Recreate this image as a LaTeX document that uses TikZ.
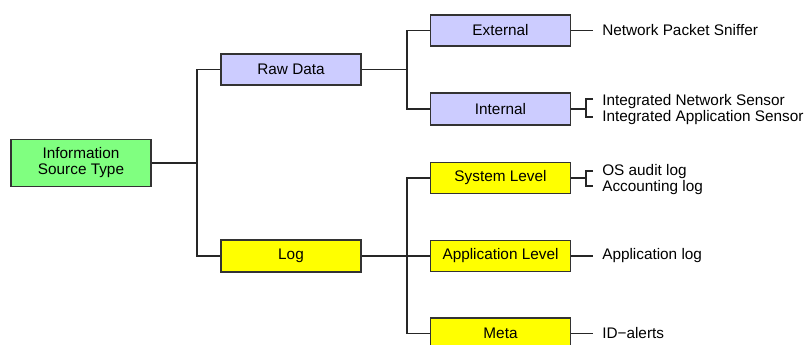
\documentclass[tikz,border=0pt]{standalone}
\usepackage{fontspec}
\setmainfont{Liberation Sans}
\definecolor{srcgreen}{RGB}{128,255,128}
\definecolor{rawblue}{RGB}{204,204,255}
\definecolor{logyellow}{RGB}{255,255,0}
\tikzset{
  box/.style={draw=black!80, line width=0.8pt, inner sep=0pt, minimum width=105pt, minimum height=23.25pt, align=center},
  leaf/.style={anchor=west, inner xsep=6.75pt, inner ysep=0pt, align=left},
  conn/.style={draw=black!85, line width=0.8pt}
}
\begin{document}
\begin{tikzpicture}[x=0.75pt, y=-0.75pt, font=\fontsize{11.5}{12}\selectfont]
\clip (0,0) rectangle (806,344);
\node[box, fill=srcgreen, minimum height=35.25pt] (src) at (81,163){Information\\Source Type};
\node[box, fill=rawblue] (raw) at (291,69.5){Raw Data};
\node[box, fill=logyellow, minimum height=24pt] (log) at (291,256){Log};
\node[box, fill=rawblue] (ext) at (500.5,30.5){External};
\node[box, fill=rawblue, minimum height=24pt] (int) at (500.5,109){Internal};
\node[box, fill=logyellow] (sys) at (500.5,178){System Level};
\node[box, fill=logyellow] (app) at (500.5,256){Application Level};
\node[box, fill=logyellow] (meta) at (500.5,333.5){Meta};
\node[leaf] (nps) at (593,30.5){Network Packet Sniffer};
\node[leaf] (ins) at (593,109.5){Integrated Network Sensor\\Integrated Application Sensor};
\node[leaf] (osl) at (593,179.5){OS audit log\\Accounting log};
\node[leaf] (apl) at (593,256){Application log};
\node[leaf] (ida) at (593,333.5){ID−alerts};
\coordinate (t1) at (197,163);
\coordinate (t2) at (407,69.5);
\coordinate (t3) at (407,256);
\coordinate (b1) at (586,109);
\coordinate (b1a) at (593,99);
\coordinate (b1b) at (593,117);
\coordinate (b2) at (586,178);
\coordinate (b2a) at (593,171);
\coordinate (b2b) at (593,186);
\draw[conn](src) -- (t1);
\draw[conn](t1) |- (raw);
\draw[conn](t1) |- (log);
\draw[conn](raw) -- (t2);
\draw[conn](t2) |- (ext);
\draw[conn](t2) |- (int);
\draw[conn](log) -- (app);
\draw[conn](t3) |- (sys);
\draw[conn](t3) |- (meta);
\draw[conn](ext) -- (nps);
\draw[conn](app) -- (apl);
\draw[conn](meta) -- (ida);
\draw[conn](int) -- (b1);
\draw[conn](b1a) -| (b1) |- (b1b);
\draw[conn](sys) -- (b2);
\draw[conn](b2a) -| (b2) |- (b2b);
\end{tikzpicture}
\end{document}
